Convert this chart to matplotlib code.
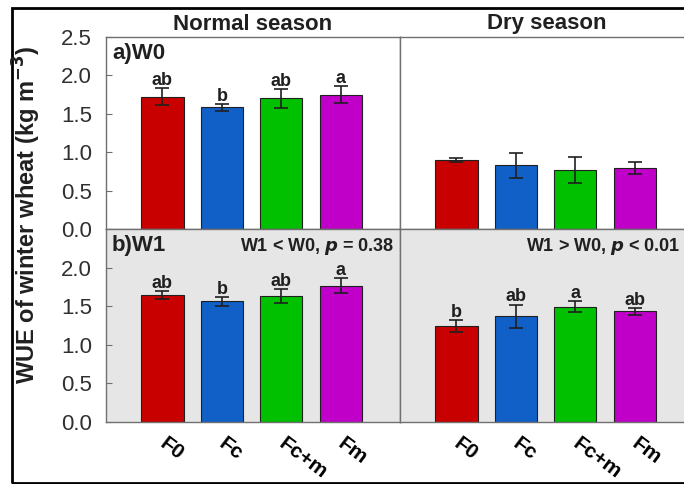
import numpy as np
import matplotlib
matplotlib.use("Agg")
from matplotlib import pyplot as plt
from matplotlib import transforms
from matplotlib.patches import Rectangle

plt.rcParams["font.family"] = ["Liberation Sans", "DejaVu Sans"]

treatments = ["F0", "Fc", "Fc+m", "Fm"]
colors = ["#c80000", "#1060c8", "#00c000", "#c000c8"]

# WUE means and error bars (kg m-3)
normal_w0 = [1.72, 1.585, 1.70, 1.75]
normal_w0_err = [0.11, 0.045, 0.12, 0.11]
dry_w0 = [0.895, 0.83, 0.77, 0.79]
dry_w0_err = [0.025, 0.16, 0.17, 0.08]
normal_w1 = [1.64, 1.56, 1.63, 1.765]
normal_w1_err = [0.05, 0.06, 0.09, 0.10]
dry_w1 = [1.24, 1.37, 1.49, 1.43]
dry_w1_err = [0.08, 0.15, 0.07, 0.04]

normal_w0_letters = ["ab", "b", "ab", "a"]
dry_w0_letters = ["", "", "", ""]
normal_w1_letters = ["ab", "b", "ab", "a"]
dry_w1_letters = ["b", "ab", "a", "ab"]

W, H = 684, 484
fig = plt.figure(figsize=(W / 100, H / 100), dpi=100)


def px_axes(x0, y0, x1, y1):
    return fig.add_axes([x0 / W, 1 - y1 / H, (x1 - x0) / W, (y1 - y0) / H])


frame_col = "#707070"
panels = [
    (px_axes(106, 37, 400, 229), normal_w0, normal_w0_err, normal_w0_letters, "white", True),
    (px_axes(400, 37, 694, 229), dry_w0, dry_w0_err, dry_w0_letters, "white", False),
    (px_axes(106, 229, 400, 421.7), normal_w1, normal_w1_err, normal_w1_letters, "#e6e6e6", True),
    (px_axes(400, 229, 694, 421.7), dry_w1, dry_w1_err, dry_w1_letters, "#e6e6e6", False),
]

shift = transforms.ScaledTranslation(5 / 100, 0, fig.dpi_scale_trans)
x = np.arange(len(treatments))
for i, (ax, vals, errs, letters, bg, left) in enumerate(panels):
    ax.set_facecolor(bg)
    ax.bar(x, vals, width=0.71, color=colors, edgecolor="#202020", linewidth=0.8, zorder=2)
    ax.errorbar(x, vals, yerr=errs, fmt="none", ecolor="#202020", elinewidth=1.2,
                capsize=5, capthick=1.2, zorder=3)
    for xi, v, e, lab in zip(x, vals, errs, letters):
        if lab:
            ax.text(xi, v + e - 0.01, lab, ha="center", va="bottom", fontsize=13,
                    fontweight="bold", color="#202020")
    ax.set_xlim(-0.95, 4.0)
    ax.set_ylim(0, 2.5)
    for s in ax.spines.values():
        s.set_color(frame_col)
        s.set_linewidth(1.0)
    ax.set_xticks([])
    if left:
        ticks = [0, 0.5, 1.0, 1.5, 2.0, 2.5] if i == 0 else [0, 0.5, 1.0, 1.5, 2.0]
        ax.set_yticks(ticks)
        ax.set_yticklabels([f"{t:.1f}" for t in ticks])
        ax.tick_params(axis="y", direction="in", length=4, color=frame_col,
                       labelsize=16, labelcolor="#303030", pad=10)
    else:
        ax.set_yticks([])
    if i >= 2:
        ax.set_xticks(x)
        ax.set_xticklabels(treatments)
        ax.tick_params(axis="x", length=0, pad=9)
        for t in ax.get_xticklabels():
            t.set_rotation(-37)
            t.set_rotation_mode("anchor")
            t.set_ha("left")
            t.set_va("top")
            t.set_fontsize(15)
            t.set_fontweight("bold")
            t.set_transform(t.get_transform() + shift)

ax_nw0, ax_dw0, ax_nw1, ax_dw1 = [p[0] for p in panels]
ax_nw0.text(0.02, 0.97, "a)W0", transform=ax_nw0.transAxes, ha="left", va="top",
            fontsize=16, fontweight="bold", color="#202020")
ax_nw1.text(0.02, 0.97, "b)W1", transform=ax_nw1.transAxes, ha="left", va="top",
            fontsize=16, fontweight="bold", color="#202020")
ax_nw1.text(0.98, 0.965, r"W1 < W0, $\mathbfit{p}$ = 0.38", transform=ax_nw1.transAxes,
            ha="right", va="top", fontsize=13, fontweight="bold", color="#202020")
ax_dw1.text(0.43, 0.965, r"W1 > W0, $\mathbfit{p}$ < 0.01", transform=ax_dw1.transAxes,
            ha="left", va="top", fontsize=13, fontweight="bold", color="#202020")

fig.text(253 / W, 1 - 24 / H, "Normal season", ha="center", va="center",
         fontsize=16, fontweight="bold", color="#202020")
fig.text(547 / W, 1 - 24 / H, "Dry season", ha="center", va="center",
         fontsize=16, fontweight="bold", color="#202020")
fig.text(27 / W, 1 - 215 / H, r"WUE of winter wheat (kg m$^{\mathbf{-3}}$)", rotation=90,
         ha="center", va="center", fontsize=17, fontweight="bold", color="#202020")

# outer frame, clipped on the right like the original
fig.patches.append(Rectangle((12 / W, 1 - 483 / H), 700 / W, 475 / H, transform=fig.transFigure,
                             fill=False, edgecolor="black", linewidth=2))

fig.savefig("out.png", dpi=100)
